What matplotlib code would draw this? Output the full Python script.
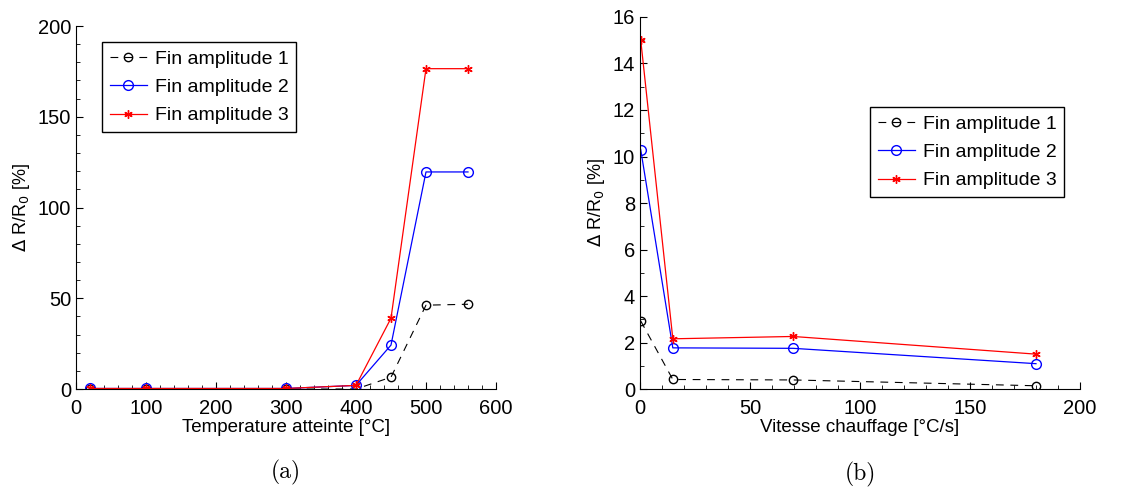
import numpy as np
import matplotlib.pyplot as plt
from matplotlib.ticker import MultipleLocator

# (a) temperature atteinte
temp = [20, 100, 300, 400, 450, 500, 560]
amp1_a = [0.0, 0.0, 0.0, 0.0, 6.5, 46.2, 46.7]
amp2_a = [0.3, 0.3, 0.3, 2.0, 24.2, 119.6, 119.6]
amp3_a = [0.3, 0.3, 0.3, 2.0, 39.0, 176.5, 176.5]

# (b) vitesse chauffage
vitesse = [0.3, 14.9, 69.6, 180]
amp1_b = [2.93, 0.41, 0.39, 0.14]
amp2_b = [10.3, 1.77, 1.75, 1.09]
amp3_b = [15.02, 2.16, 2.26, 1.50]

labels = ['Fin amplitude 1', 'Fin amplitude 2', 'Fin amplitude 3']

plt.rcParams['font.family'] = ['Liberation Sans', 'DejaVu Sans']

fig = plt.figure(figsize=(11.46, 4.91), dpi=100)
ax1 = fig.add_axes([0.0663, 0.2077, 0.3665, 0.7393])
ax2 = fig.add_axes([0.5585, 0.2077, 0.3839, 0.7577])


def draw(ax, x, s1, s2, s3):
    ax.plot(x, s1, '--', color='black', marker='o', mfc='none', ms=6,
            lw=0.8, dashes=(7, 6), label=labels[0])
    ax.plot(x, s2, '-', color='blue', marker='o', mfc='none', ms=7,
            lw=0.9, label=labels[1])
    ax.plot(x, s3, '-', color='red', marker=(6, 2, 0), ms=6, mew=1.0,
            lw=0.9, label=labels[2])
    ax.spines['top'].set_visible(False)
    ax.spines['right'].set_visible(False)
    ax.tick_params(which='both', direction='in', labelsize=14.5)
    ax.tick_params(axis='x', pad=7)
    ax.tick_params(which='major', length=5)
    ax.tick_params(which='minor', length=3)


def legend(ax, anchor):
    ax.legend(loc='upper left', bbox_to_anchor=anchor, fontsize=14,
              fancybox=False, edgecolor='black', framealpha=1, numpoints=1,
              handlelength=1.9, borderpad=0.4, labelspacing=0.55,
              handletextpad=0.4, borderaxespad=0)


draw(ax1, temp, amp1_a, amp2_a, amp3_a)
ax1.set_xlim(0, 600)
ax1.set_ylim(0, 200)
ax1.xaxis.set_major_locator(MultipleLocator(100))
ax1.xaxis.set_minor_locator(MultipleLocator(20))
ax1.yaxis.set_major_locator(MultipleLocator(50))
ax1.yaxis.set_minor_locator(MultipleLocator(10))
ax1.set_xlabel('Temperature atteinte [°C]', fontsize=13.5, labelpad=1)
ax1.set_ylabel(r'$\Delta$ R/R$_0$ [%]', fontsize=13)
legend(ax1, (0.062, 0.955))
ax1.text(0.5, -0.23, '(a)', transform=ax1.transAxes, ha='center', va='center',
         fontsize=17, family='cmr10')

draw(ax2, vitesse, amp1_b, amp2_b, amp3_b)
ax2.set_xlim(0, 200)
ax2.set_ylim(0, 16)
ax2.xaxis.set_major_locator(MultipleLocator(50))
ax2.xaxis.set_minor_locator(MultipleLocator(10))
ax2.yaxis.set_major_locator(MultipleLocator(2))
ax2.yaxis.set_minor_locator(MultipleLocator(1))
ax2.set_xlabel('Vitesse chauffage [°C/s]', fontsize=13.5, labelpad=1)
ax2.set_ylabel(r'$\Delta$ R/R$_0$ [%]', fontsize=13)
legend(ax2, (0.523, 0.757))
ax2.text(0.5, -0.23, '(b)', transform=ax2.transAxes, ha='center', va='center',
         fontsize=17, family='cmr10')

fig.savefig('out.png', dpi=100)
